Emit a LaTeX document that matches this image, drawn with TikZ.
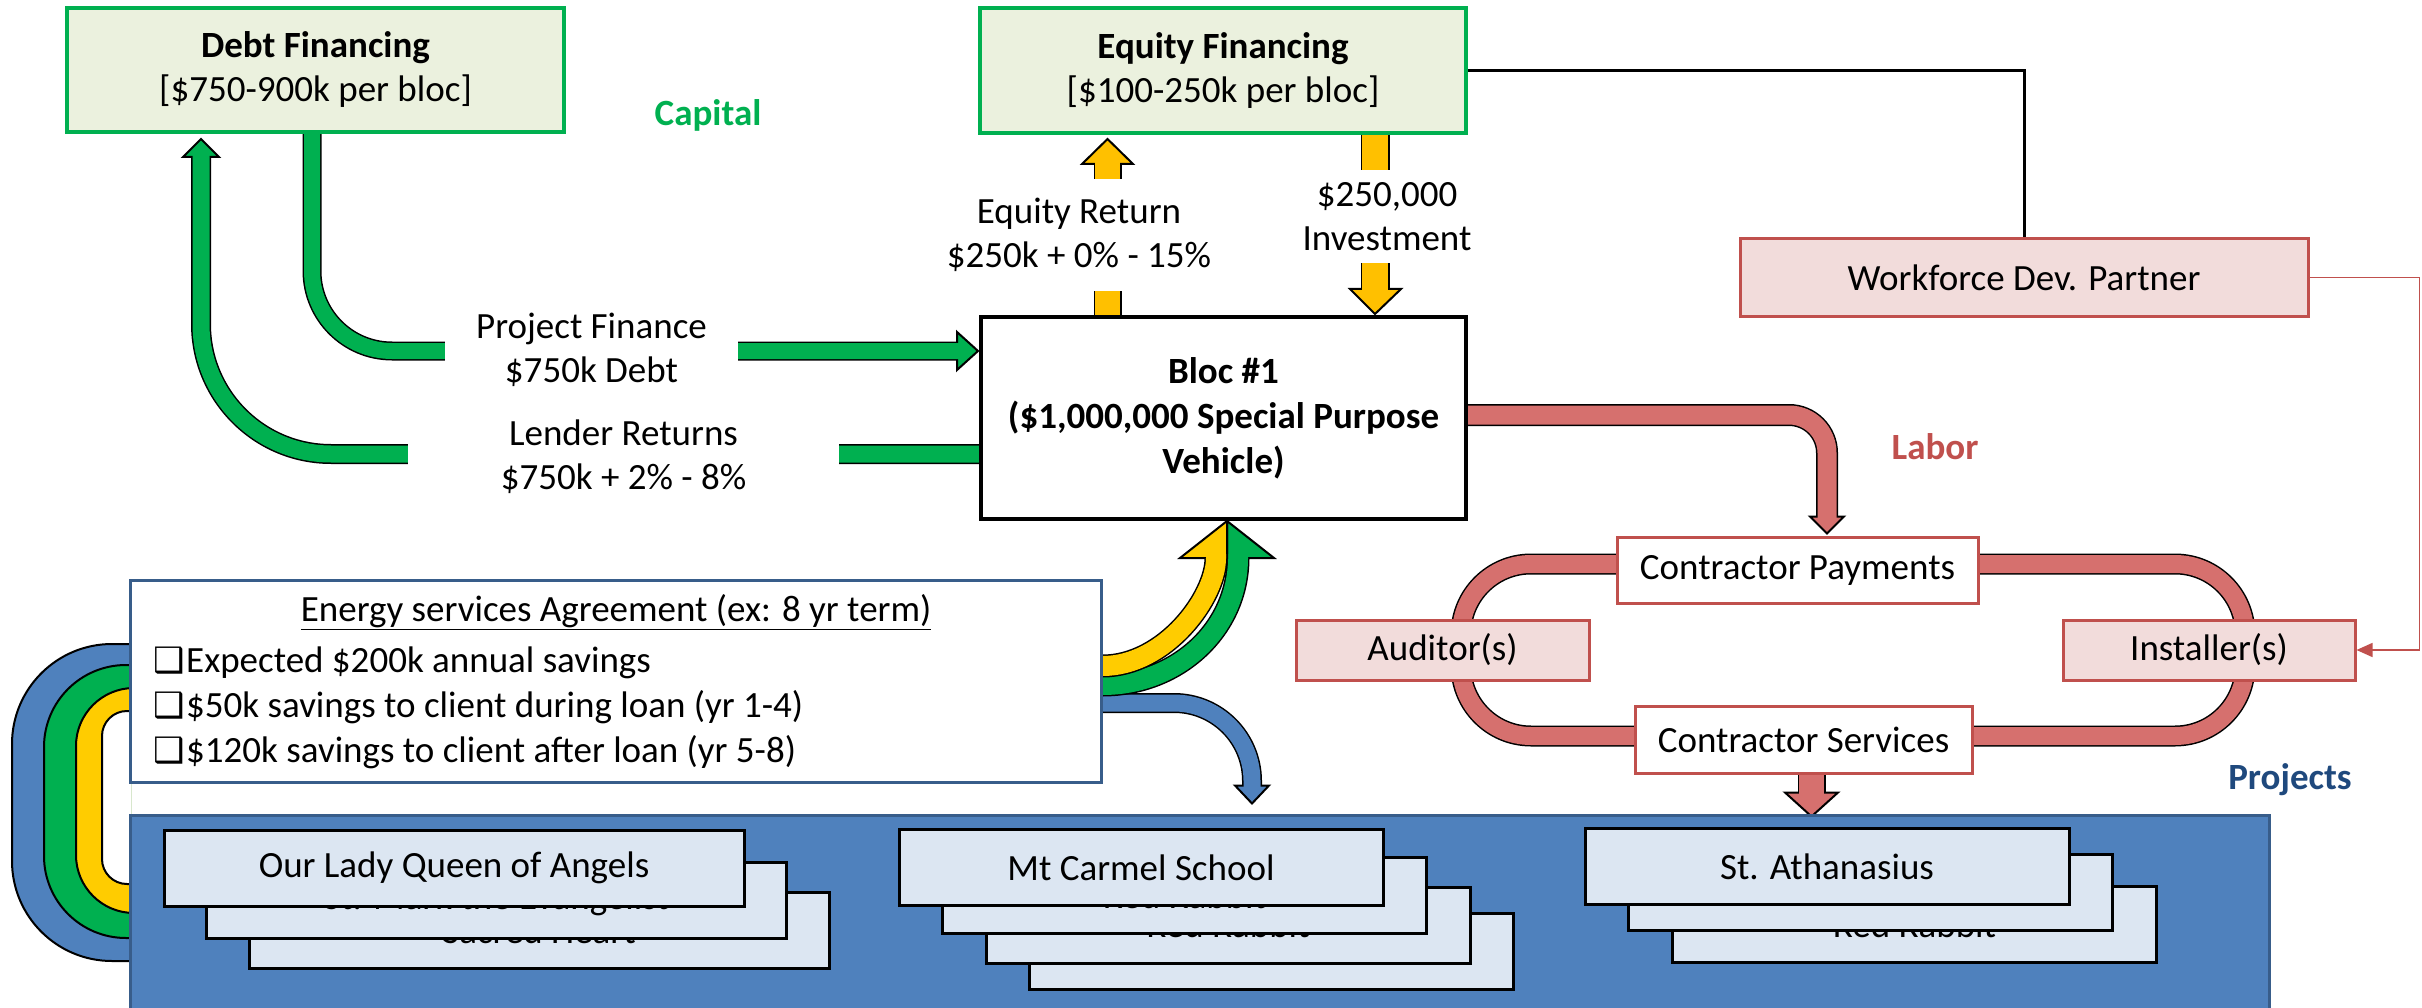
\documentclass[tikz,border=0pt]{standalone}
\usepackage{fontspec}
\setmainfont{Carlito}
\newfontfamily\dejavu{DejaVu Sans}
\usetikzlibrary{arrows.meta,calc}
\pgfdeclarelayer{bg}
\pgfsetlayers{bg,main}
\definecolor{cgreen}{HTML}{00B050}
\definecolor{cyel}{HTML}{FFC000}
\definecolor{cyelb}{HTML}{FFCC00}
\definecolor{cblue}{HTML}{4F81BD}
\definecolor{cblued}{HTML}{385D8A}
\definecolor{cnavy}{HTML}{1F497D}
\definecolor{cred}{HTML}{C0504D}
\definecolor{credband}{HTML}{D6706E}
\definecolor{cpink}{HTML}{F2DCDB}
\definecolor{clgreen}{HTML}{EBF1DE}
\definecolor{ccard}{HTML}{DCE6F2}
\newcommand\bul{\makebox[33pt][l]{\dejavu\fontsize{35}{35}\selectfont ❑}}
% arrow band: colour, width, options, path, head
\newcommand\arrowband[5]{%
  \draw[black,line width=#2+3,#3] #4;
  \filldraw[fill=#1,draw=black,line width=2] #5;
  \draw[#1,line width=#2,#3] #4;}
\begin{document}
\begin{tikzpicture}[x=1pt,y=-1pt,
  txt/.style={font=\fontsize{37}{44}\selectfont, align=center, inner sep=0},
  finbox/.style={draw=cgreen, line width=4, fill=clgreen, txt},
  redbox/.style={draw=cred, line width=3, fill=cpink, txt},
  whitebox/.style={draw=cred, line width=3, fill=white, txt},
  card/.style={draw=black, line width=3, fill=ccard, txt, minimum height=76},
  cover/.style={fill=white, txt},
  lbl/.style={font=\bfseries\fontsize{37}{44}\selectfont, inner sep=0},
]
\useasboundingbox (0,0) rectangle (2422,1008);

% ---------- boxes ----------
\node[finbox, minimum width=497, minimum height=124] (debt) at (315.5,70)
  {\textbf{Debt Financing}\\{}[\$750-900k per bloc]};
\node[finbox, minimum width=486, minimum height=125] (equity) at (1223,70.5)
  {\textbf{Equity Financing}\\{}[\$100-250k per bloc]};
\node[draw=black, line width=4, fill=white, txt, font=\bfseries\fontsize{37}{45}\selectfont,
  minimum width=485, minimum height=202] (bloc) at (1223.5,418)
  {Bloc \#1\\(\$1,000,000 Special Purpose\\Vehicle)};
\node[redbox, minimum width=568, minimum height=77] (workforce) at (2024,277.5) {Workforce Dev. Partner};
\node[whitebox, minimum width=361, minimum height=66] (cpay) at (1797.5,570) {Contractor Payments};
\node[whitebox, minimum width=337, minimum height=67] (cserv) at (1803.5,739.5) {Contractor Services};
\node[redbox, minimum width=293, minimum height=60] (auditor) at (1442.5,650) {Auditor(s)};
\node[redbox, minimum width=292, minimum height=60] (installer) at (2209,650) {Installer(s)};
\node[draw=cblued, line width=3, fill=white, minimum width=971, minimum height=202] (esa) at (615.5,681) {};
\node[txt] (esatitle) at (616,612) {\underline{Energy services Agreement (ex: 8 yr term)}};
\node[txt, align=left, anchor=west, font=\fontsize{37}{45}\selectfont] (esalist) at (153,708)
  {\bul Expected \$200k annual savings\\\bul \$50k savings to client during loan (yr 1-4)\\\bul \$120k savings to client after loan (yr 5-8)};
\node[draw=cblued, line width=3, fill=cblue, minimum width=2139, minimum height=200] (proj) at (1199.5,915) {};

% project cards
\node[card, minimum width=580] (ol3) at (539,930.5) {Sacred Heart};
\node[card, minimum width=580] (ol2) at (496,900) {St. Mark the Evangelist};
\node[card, minimum width=580] (ol1) at (454,868) {Our Lady Queen of Angels};
\node[card, minimum width=484] (mc4) at (1271.5,951.5) {};
\node[card, minimum width=484] (mc3) at (1228,925) {Red Rabbit};
\node[card, minimum width=484] (mc2) at (1184.5,895.5) {Red Rabbit};
\node[card, minimum width=484] (mc1) at (1141,867.5) {Mt Carmel School};
\node[card, minimum width=484] (sa3) at (1914.5,924.5) {Red Rabbit};
\node[card, minimum width=484] (sa2) at (1870.5,892) {};
\node[card, minimum width=484] (sa1) at (1827,866.5) {St. Athanasius};

% section labels
\node[lbl, text=cgreen] (capital) at (708,115) {Capital};
\node[lbl, text=cred] (labor) at (1935,447) {Labor};
\node[lbl, text=cnavy] (projects) at (2290,780) {Projects};

% label covers on the arrows
\node[cover, minimum width=293, minimum height=60] (pflbl) at (591.5,350) {Project Finance\\\$750k Debt};
\node[cover, minimum width=431, minimum height=60] (lrlbl) at (623.5,457) {Lender Returns\\\$750k + 2\% - 8\%};
\node[cover, minimum height=112] (eqlbl) at (1079,235) {Equity Return\\\$250k + 0\% - 15\%};
\node[cover, minimum height=93] (invlbl) at (1387,217) {\$250,000\\Investment};

% thin connectors
\draw[black, line width=3] (equity.east) -| (workforce.north);
\draw[cred, line width=1.5, -{Triangle[length=16pt,width=14pt]}] (workforce.east) -- ++(110,0) |- (installer.east);

% ---------- bands ----------
\begin{pgfonlayer}{bg}
% left loops
\begin{scope}
\clip (0,0) rectangle (131,1008);
\filldraw[fill=cblue, draw=black, line width=2, rounded corners=100] (12,644) rectangle (400,961);
\filldraw[fill=cgreen, draw=black, line width=2, rounded corners=82] (44,665) rectangle (400,938);
\filldraw[fill=cyelb, draw=black, line width=2, rounded corners=58] (76,688) rectangle (400,913);
\filldraw[fill=white, draw=black, line width=2, rounded corners=25] (102,711) rectangle (400,884);
\end{scope}

% lender returns
\arrowband{cgreen}{17}{rounded corners=130}
  {($(bloc.west)+(0,36)$) -| ($(debt.south)+(-114.5,21)$)}
  {($(debt.south)+(-132.5,23)$) -- ($(debt.south)+(-114.5,5)$) -- ($(debt.south)+(-96.5,23)$) -- cycle}
% project finance
\arrowband{cgreen}{16}{rounded corners=80}
  {($(debt.south)+(-3.5,0)$) |- ($(bloc.west)+(-20,-67)$)}
  {($(bloc.west)+(-22,-86)$) -- ($(bloc.west)+(-1,-67)$) -- ($(bloc.west)+(-22,-48)$) -- cycle}
% equity return
\arrowband{cyel}{25}{}
  {($(bloc.north)+(-116,0)$) -- ($(equity.south)+(-115.5,27)$)}
  {($(equity.south)+(-141,29)$) -- ($(equity.south)+(-115.5,4)$) -- ($(equity.south)+(-90,29)$) -- cycle}
% investment
\arrowband{cyel}{26}{}
  {($(equity.south)+(152,0)$) -- ($(bloc.north)+(151.5,-24)$)}
  {($(bloc.north)+(126.5,-26)$) -- ($(bloc.north)+(151.5,-1)$) -- ($(bloc.north)+(177.5,-26)$) -- cycle}
% labor
\arrowband{credband}{19}{rounded corners=38}
  {($(bloc.east)+(0,-3)$) -| ($(cpay.north)+(29.5,-17)$)}
  {($(cpay.north)+(12.5,-19)$) -- ($(cpay.north)+(29.5,-2)$) -- ($(cpay.north)+(46.5,-19)$) -- cycle}
% contractor loop
\draw[black, line width=21, rounded corners=70] (1461,564) rectangle (2245,736);
\draw[credband, line width=18, rounded corners=70] (1461,564) rectangle (2245,736);
% services to projects
\arrowband{credband}{25}{}
  {($(cserv.south)+(8,0)$) -- ($(cserv.south)+(8,20)$)}
  {($(cserv.south)+(-18.5,18)$) -- ($(cserv.south)+(8,42)$) -- ($(cserv.south)+(34.5,18)$) -- cycle}
% ESA to projects (blue)
\arrowband{cblue}{17}{rounded corners=78}
  {($(esa.east)+(0,22)$) -| ($(proj.north)+(52.5,-26)$)}
  {($(proj.north)+(35.5,-28)$) -- ($(proj.north)+(52.5,-10)$) -- ($(proj.north)+(69.5,-28)$) -- cycle}
% ESA to bloc (green, then yellow)
\arrowband{cgreen}{20}{}
  {($(esa.east)+(0,4)$) .. controls +(75,0) and +(0,71) .. ($(bloc.south)+(14.5,37)$) -- ($(bloc.south)+(14.5,33)$)}
  {($(bloc.south)+(3.5,37)$) -- ($(bloc.south)+(3.5,0)$) -- ($(bloc.south)+(50.5,37)$) -- cycle}
\arrowband{cyelb}{20}{}
  {($(esa.east)+(0,-15)$) .. controls +(63,0) and +(0,39) .. ($(bloc.south)+(-7.5,37)$) -- ($(bloc.south)+(-7.5,33)$)}
  {($(bloc.south)+(-43.5,37)$) -- ($(bloc.south)+(3.5,0)$) -- ($(bloc.south)+(3.5,37)$) -- cycle}
\end{pgfonlayer}
\end{tikzpicture}
\end{document}
